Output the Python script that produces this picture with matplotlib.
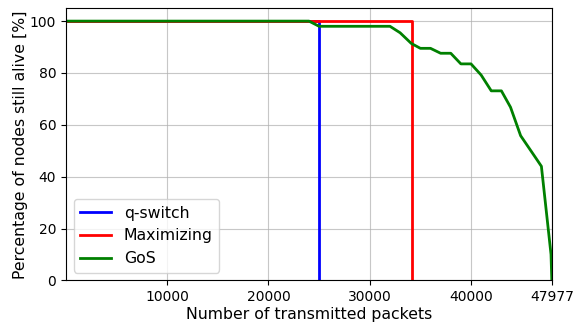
import numpy as np
import matplotlib
matplotlib.use('Agg')
import matplotlib.pyplot as plt

total_packets = 47977

# q-switch: all nodes alive until one dies, then the network is gone
qswitch_x = [0, 25000, 25000]
qswitch_y = [100, 100, 0]

# Maximizing
maxim_x = [0, 34150, 34150]
maxim_y = [100, 100, 0]

# GoS
gos_x = [0, 24000, 25000, 32000, 33000, 34100, 35000, 36000, 37000, 38000,
         39000, 40000, 41000, 42000, 43000, 43900, 44900, 46450, 46950, 47900, 47977]
gos_y = [100, 100, 98, 98, 95.5, 91.4, 89.5, 89.5, 87.6, 87.6,
         83.5, 83.5, 79.2, 73.1, 73.1, 66.8, 55.8, 46.9, 44.0, 10, 0]

xticks = [10000, 20000, 30000, 40000, total_packets]

fig, ax = plt.subplots(figsize=(5.73, 3.26), dpi=100)
ax.plot(qswitch_x, qswitch_y, color='blue', lw=2, label='q-switch')
ax.plot(maxim_x, maxim_y, color='red', lw=2, label='Maximizing')
ax.plot(gos_x, gos_y, color='green', lw=2, label='GoS')

ax.set_xlim(0, total_packets)
ax.set_ylim(0, 105)
ax.set_xticks(xticks)
ax.set_yticks([0, 20, 40, 60, 80, 100])
ax.tick_params(labelsize=10)
ax.grid(True, color='#b0b0b0', alpha=0.7)
ax.set_xlabel('Number of transmitted packets', fontsize=11.3, labelpad=2)
ax.set_ylabel('Percentage of nodes still alive [%]', fontsize=11.3, labelpad=1)
ax.legend(loc='lower left', fontsize=11.3)

plt.subplots_adjust(left=0.115, right=0.963, top=0.975, bottom=0.14)
plt.savefig('out.png')
